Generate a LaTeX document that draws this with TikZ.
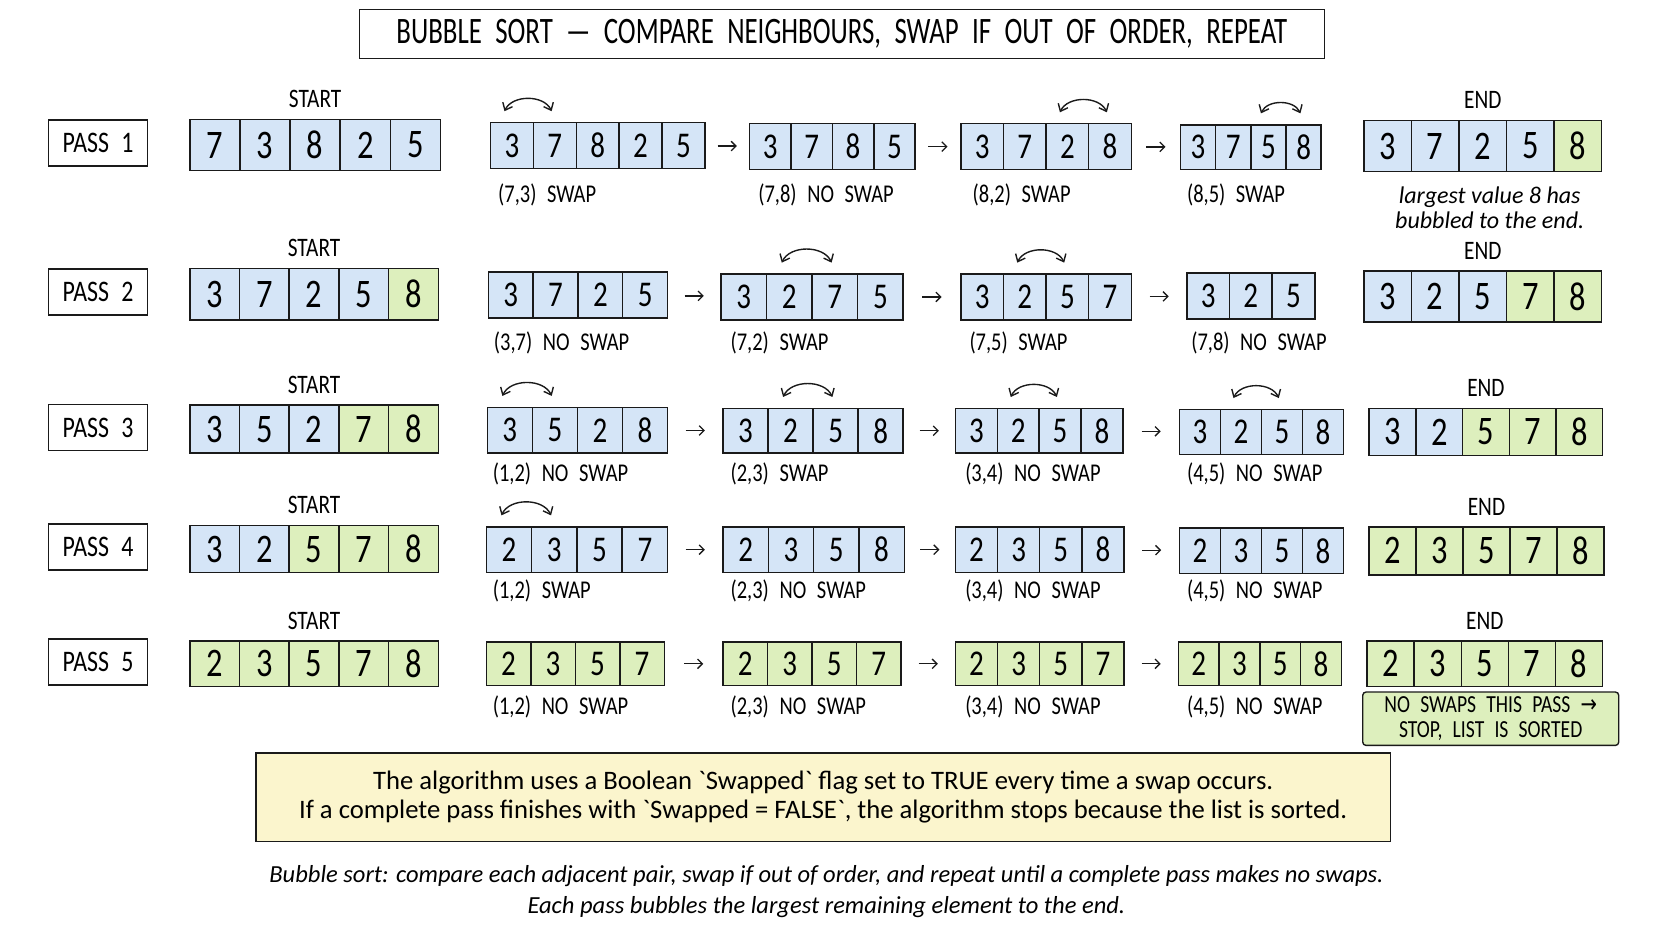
\documentclass[tikz,border=0pt]{standalone}
\usepackage{fontspec}
\setmainfont{Carlito}[FakeStretch=0.8, WordSpace=2.3]
\newfontfamily\titlefont{Carlito}[FakeStretch=0.72, WordSpace=2.2]
\newfontfamily\notefont{Carlito}
\newfontfamily\arrowfont{DejaVu Sans}[FakeStretch=0.8]
\usetikzlibrary{arrows.meta,positioning,calc}
\definecolor{cb}{HTML}{D5E5F7}
\definecolor{cg}{HTML}{DDEFBD}
\definecolor{notey}{HTML}{FBF5CD}
\definecolor{ink}{HTML}{1A1A1A}
\newcommand\fs[2]{\fontsize{#1}{#2}\selectfont}
% one row of cells: style, name, left x, top y, cell width, height, value/colour list
\newcommand\cells[7]{%
  \foreach \v/\c [count=\i] in {#7}
    \node[#1, fill=\c, minimum width=#5pt, minimum height=#6pt] (#2-\i) at ({#3+(\i-0.5)*#5}, {#4+#6/2}) {\v};%
}
\newcommand\swapover[3]{%
  \draw[swaparc] ([xshift=-7pt,yshift=10pt]#1-#2.north) to[bend left=65] ([xshift=-3pt,yshift=10pt]#1-#3.north);%
}
\newcommand\nextstep[2]{%
  \draw[nextarr] ($(#1.east)!.5!(#2.west)+(-9,0)$) -- ($(#1.east)!.5!(#2.west)+(9,0)$);%
}
\begin{document}
\begin{tikzpicture}[x=1pt, y=-1pt,
    cell/.style={draw=ink, line width=1.4pt, inner sep=0pt, font=\fs{34}{34}},
    bigcell/.style={cell, font=\fs{38}{38}},
    passbox/.style={draw=ink, line width=1.5pt, minimum width=93pt, minimum height=43pt, inner sep=0pt, font=\fs{28}{28}},
    tag/.style={inner sep=0pt, font=\fs{25}{25}},
    steplabel/.style={anchor=west, inner sep=0pt, font=\fs{24}{24}},
    swaparc/.style={{Straight Barb[length=6pt,width=10pt]}-{Straight Barb[length=6pt,width=10pt]}, line width=1.3pt, ink},
    nextarr/.style={-{Straight Barb[length=4.5pt,width=9pt]}, line width=1.2pt, ink}]

\fill[white] (0,0) rectangle (1568,882.5);
\useasboundingbox (0,0) rectangle (1568,882.5);

\node[draw=ink, line width=1.6pt, minimum width=905pt, minimum height=46pt, font=\titlefont\fs{35}{35}] (title) at (789.5,32)
  {BUBBLE SORT — COMPARE NEIGHBOURS, SWAP IF OUT OF ORDER, REPEAT};

% pass 1
\node[passbox] (pass1) at (92,134) {PASS 1};
\cells{bigcell}{p1a}{178}{112}{47}{48}{7/cb,3/cb,8/cb,2/cb,5/cb}
\node[tag, above=10pt of p1a-3] {START};
\cells{cell}{p1b}{460}{115}{40.2}{43}{3/cb,7/cb,8/cb,2/cb,5/cb}
\cells{cell}{p1c}{703}{116}{38.8}{43}{3/cb,7/cb,8/cb,5/cb}
\cells{cell}{p1d}{901}{116}{40}{43}{3/cb,7/cb,2/cb,8/cb}
\cells{cell}{p1e}{1107}{117}{33}{42}{3/cb,7/cb,5/cb,8/cb}
\cells{bigcell}{p1f}{1279}{113}{44.6}{48}{3/cb,7/cb,2/cb,5/cb,8/cg}
\node[tag, above=10pt of p1f-3] {END};
\swapover{p1b}{1}{2}
\swapover{p1d}{3}{4}
\swapover{p1e}{3}{4}
\nextstep{p1b-5}{p1c-1}
\nextstep{p1c-4}{p1d-1}
\nextstep{p1d-4}{p1e-1}
\node[steplabel] at (467,183) {(7,3) SWAP};
\node[steplabel] at (711,183) {(7,8) NO SWAP};
\node[steplabel] at (912,183) {(8,2) SWAP};
\node[steplabel] at (1113,183) {(8,5) SWAP};
\node[align=center, inner sep=0pt, font=\notefont\itshape\fs{22.5}{24}] (bubbled) at (1397,195) {largest value 8 has\\bubbled to the end.};

% pass 2
\node[passbox] (pass2) at (92,274) {PASS 2};
\cells{bigcell}{p2a}{178}{252}{46.6}{48}{3/cb,7/cb,2/cb,5/cb,8/cg}
\node[tag, above=10pt of p2a-3] {START};
\cells{cell}{p2b}{458}{255}{42}{43}{3/cb,7/cb,2/cb,5/cb}
\cells{cell}{p2c}{676}{257}{42.75}{43}{3/cb,2/cb,7/cb,5/cb}
\cells{cell}{p2d}{901}{257}{40}{43}{3/cb,2/cb,5/cb,7/cb}
\cells{cell}{p2e}{1113}{256}{40}{43}{3/cb,2/cb,5/cb}
\cells{bigcell}{p2f}{1279}{254}{44.6}{48}{3/cb,2/cb,5/cb,7/cg,8/cg}
\node[tag, above=10pt of p2f-3] {END};
\swapover{p2c}{2}{3}
\swapover{p2d}{2}{3}
\nextstep{p2b-4}{p2c-1}
\nextstep{p2c-4}{p2d-1}
\nextstep{p2d-4}{p2e-1}
\node[steplabel] at (463,322) {(3,7) NO SWAP};
\node[steplabel] at (685,322) {(7,2) SWAP};
\node[steplabel] at (909,322) {(7,5) SWAP};
\node[steplabel] at (1117,322) {(7,8) NO SWAP};

% pass 3
\node[passbox] (pass3) at (92,401) {PASS 3};
\cells{bigcell}{p3a}{178}{380}{46.6}{45}{3/cb,5/cb,2/cb,7/cg,8/cg}
\node[tag, above=10pt of p3a-3] {START};
\cells{cell}{p3b}{457}{382}{42.25}{43}{3/cb,5/cb,2/cb,8/cb}
\cells{cell}{p3c}{678}{383}{42.25}{42}{3/cb,2/cb,5/cb,8/cb}
\cells{cell}{p3d}{896}{383}{39.25}{42}{3/cb,2/cb,5/cb,8/cb}
\cells{cell}{p3e}{1106}{384}{38.5}{42}{3/cb,2/cb,5/cb,8/cb}
\cells{bigcell}{p3f}{1284}{383}{43.8}{44}{3/cb,2/cb,5/cg,7/cg,8/cg}
\node[tag, above=10pt of p3f-3] {END};
\swapover{p3b}{1}{2}
\swapover{p3c}{2}{3}
\swapover{p3d}{2}{3}
\swapover{p3e}{2}{3}
\nextstep{p3b-4}{p3c-1}
\nextstep{p3c-4}{p3d-1}
\nextstep{p3d-4}{p3e-1}
\node[steplabel] at (462,444) {(1,2) NO SWAP};
\node[steplabel] at (685,444) {(2,3) SWAP};
\node[steplabel] at (905,444) {(3,4) NO SWAP};
\node[steplabel] at (1113,444) {(4,5) NO SWAP};

% pass 4
\node[passbox] (pass4) at (92,513) {PASS 4};
\cells{bigcell}{p4a}{178}{493}{46.6}{44}{3/cb,2/cb,5/cg,7/cg,8/cg}
\node[tag, above=10pt of p4a-3] {START};
\cells{cell}{p4b}{456}{494}{42.5}{43}{2/cb,3/cb,5/cb,7/cb}
\cells{cell}{p4c}{678}{494}{42.5}{43}{2/cb,3/cb,5/cb,8/cb}
\cells{cell}{p4d}{896}{494}{39.5}{43}{2/cb,3/cb,5/cb,8/cb}
\cells{cell}{p4e}{1106}{495}{38.5}{43}{2/cb,3/cb,5/cb,8/cb}
\cells{bigcell}{p4f}{1284}{494}{44}{45}{2/cg,3/cg,5/cg,7/cg,8/cg}
\node[tag, above=10pt of p4f-3] {END};
\swapover{p4b}{1}{2}
\nextstep{p4b-4}{p4c-1}
\nextstep{p4c-4}{p4d-1}
\nextstep{p4d-4}{p4e-1}
\node[steplabel] at (462,554) {(1,2) SWAP};
\node[steplabel] at (685,554) {(2,3) NO SWAP};
\node[steplabel] at (905,554) {(3,4) NO SWAP};
\node[steplabel] at (1113,554) {(4,5) NO SWAP};

% pass 5
\node[passbox] (pass5) at (92,621) {PASS 5};
\cells{bigcell}{p5a}{178}{601}{46.6}{43}{2/cg,3/cg,5/cg,7/cg,8/cg}
\node[tag, above=10pt of p5a-3] {START};
\cells{cell}{p5b}{456}{602}{41.75}{41}{2/cg,3/cg,5/cg,7/cg}
\cells{cell}{p5c}{678}{602}{41.75}{41}{2/cg,3/cg,5/cg,7/cg}
\cells{cell}{p5d}{896}{602}{39.5}{41}{2/cg,3/cg,5/cg,7/cg}
\cells{cell}{p5e}{1105}{602}{38.25}{41}{2/cg,3/cg,5/cg,8/cg}
\cells{bigcell}{p5f}{1282}{601}{44.2}{43}{2/cg,3/cg,5/cg,7/cg,8/cg}
\node[tag, above=10pt of p5f-3] {END};
\nextstep{p5b-4}{p5c-1}
\nextstep{p5c-4}{p5d-1}
\nextstep{p5d-4}{p5e-1}
\node[steplabel] at (462,663) {(1,2) NO SWAP};
\node[steplabel] at (685,663) {(2,3) NO SWAP};
\node[steplabel] at (905,663) {(3,4) NO SWAP};
\node[steplabel] at (1113,663) {(4,5) NO SWAP};
\node[draw=ink, line width=1.3pt, fill=cg, rounded corners=3pt, minimum width=240pt, minimum height=50pt,
      inner sep=0pt, align=center, font=\fs{23}{24}] (stop) at (1398,674)
  {NO SWAPS THIS PASS {\arrowfont →}\\STOP, LIST IS SORTED};

% notes
\node[draw=ink, line width=1.5pt, fill=notey, minimum width=1064pt, minimum height=83pt,
      align=center, font=\notefont\fs{25}{28}] (flag) at (772,747.5)
  {The algorithm uses a Boolean \textasciigrave Swapped\textasciigrave{} flag set to TRUE every time a swap occurs.\\
   If a complete pass finishes with \textasciigrave Swapped = FALSE\textasciigrave, the algorithm stops because the list is sorted.};
\node[align=center, font=\notefont\itshape\fs{23}{29}] (caption) at (775,836)
  {Bubble sort: compare each adjacent pair, swap if out of order, and repeat until a complete pass makes no swaps.\\
   Each pass bubbles the largest remaining element to the end.};

\end{tikzpicture}
\end{document}
